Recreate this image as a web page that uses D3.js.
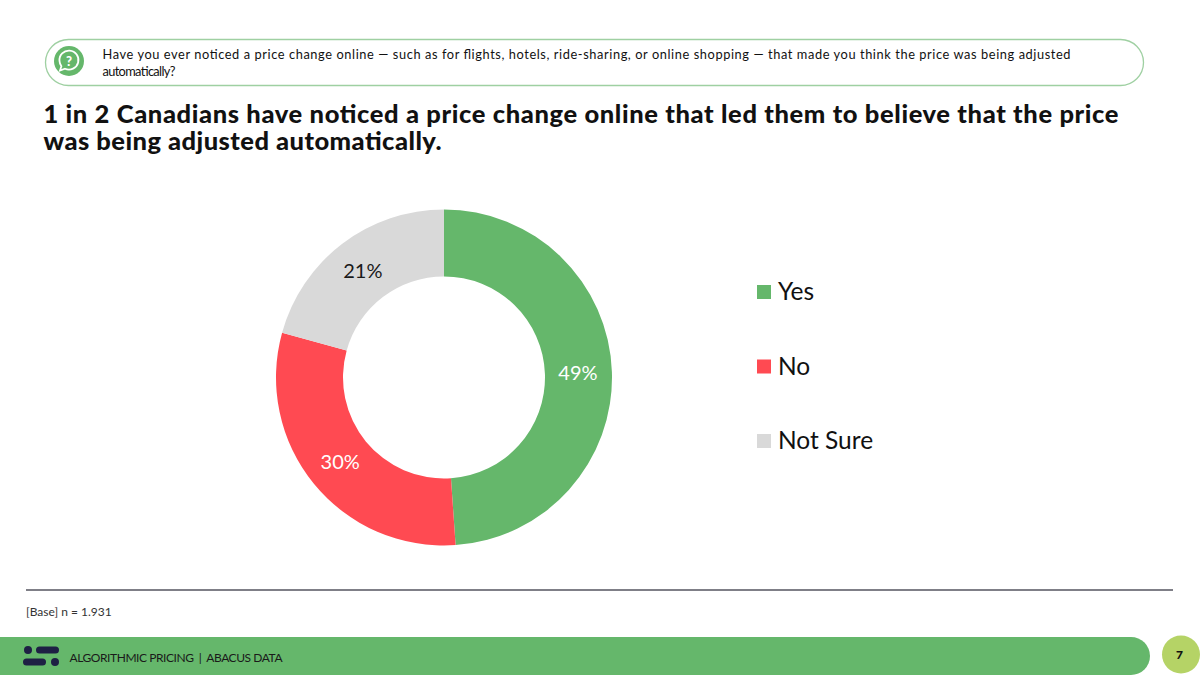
<!DOCTYPE html>
<html>
<head>
<meta charset="utf-8">
<script src="https://cdn.jsdelivr.net/npm/d3@7"></script>
<style>
  html, body { margin: 0; padding: 0; background: #fff; }
  svg { display: block; }
  text { font-family: Lato, "Open Sans", sans-serif; }
</style>
</head>
<body>
<div id="chart"></div>
<script>
const categories = ["Yes", "No", "Not Sure"];
// shares read from the slice boundaries, labels show them rounded
const values = [48.9, 30.4, 20.7];
const colors = ["#65b76b", "#ff4a52", "#d9d9d9"];
const labelColors = ["#fff", "#fff", "#1a1a1a"];

const questionLines = [
  "Have you ever noticed a price change online \u2014 such as for flights, hotels, ride-sharing, or online shopping \u2014 that made you think the price was being adjusted",
  "automatically?"
];
const titleLines = [
  "1 in 2 Canadians have noticed a price change online that led them to believe that the price",
  "was being adjusted automatically."
];

const GREEN = "#65b76b";
const svg = d3.select("#chart").append("svg").attr("width", 1200).attr("height", 675);

// question box
svg.append("rect")
  .attr("x", 45.5).attr("y", 39.5).attr("width", 1098).attr("height", 46).attr("rx", 23)
  .attr("fill", "#fff").attr("stroke", "#9fd0a2").attr("stroke-width", 1.3);
const icon = svg.append("g").attr("transform", "translate(69,61)");
icon.append("circle").attr("r", 15).attr("fill", GREEN);
icon.append("path")
  .attr("d", "M-9.5,0 A9.5,9.5 0 1 1 -4,7.7 L-9,9.5 L-7.6,5.2 A9.5,9.5 0 0 1 -9.5,0 Z")
  .attr("fill", "none").attr("stroke", "#fff").attr("stroke-width", 1.8);
icon.append("text").attr("text-anchor", "middle").attr("y", 5)
  .attr("font-size", 13).attr("font-weight", 900).attr("fill", "#fff").text("?");

svg.append("g").selectAll("text").data(questionLines).join("text")
  .attr("x", 102.5).attr("y", (d, i) => 59 + i * 17)
  .attr("font-size", 12.8).attr("fill", "#111")
  .attr("textLength", (d, i) => i === 0 ? 968 : 73)
  .attr("lengthAdjust", "spacing")
  .text(d => d);

svg.append("g").selectAll("text").data(titleLines).join("text")
  .attr("x", 43.5).attr("y", (d, i) => 123 + i * 27)
  .attr("font-size", 25.5).attr("font-weight", 900).attr("fill", "#111")
  .attr("textLength", (d, i) => i === 0 ? 1075 : 398)
  .attr("lengthAdjust", "spacing")
  .text(d => d);

// donut
const pie = d3.pie().sort(null).value(d => d);
const arc = d3.arc().innerRadius(101).outerRadius(168);
const labelArc = d3.arc().innerRadius(134).outerRadius(134);
const donut = svg.append("g").attr("transform", "translate(444,377.5)");
const slices = pie(values);

donut.selectAll("path").data(slices).join("path")
  .attr("d", arc)
  .attr("fill", (d, i) => colors[i]);

donut.selectAll("text").data(slices).join("text")
  .attr("transform", d => `translate(${labelArc.centroid(d)})`)
  .attr("text-anchor", "middle").attr("dy", "0.36em")
  .attr("font-size", 20).attr("fill", (d, i) => labelColors[i])
  .text(d => Math.round(d.value) + "%");

// legend
const legendY = d3.scalePoint().domain(categories).range([292, 441]);
const legend = svg.append("g").selectAll("g").data(categories).join("g")
  .attr("transform", d => `translate(757,${legendY(d)})`);
legend.append("rect")
  .attr("y", -7).attr("width", 14).attr("height", 14)
  .attr("fill", (d, i) => colors[i]);
legend.append("text")
  .attr("x", 21).attr("y", 8)
  .attr("font-size", 24.5).attr("fill", "#111")
  .text(d => d);

// footnote
svg.append("line").attr("x1", 26).attr("x2", 1173).attr("y1", 590).attr("y2", 590)
  .attr("stroke", "#55555f").attr("stroke-width", 1.3);
svg.append("text").attr("x", 26).attr("y", 616)
  .attr("font-size", 12).attr("fill", "#333").text("[Base] n = 1.931");

// footer bar
svg.append("path")
  .attr("d", "M0,637 H1131 A19,19 0 0 1 1131,675 H0 Z")
  .attr("fill", GREEN);
const NAVY = "#1e2044";
svg.append("circle").attr("cx", 28).attr("cy", 650).attr("r", 4).attr("fill", NAVY);
svg.append("rect").attr("x", 36).attr("y", 646.5).attr("width", 23).attr("height", 7).attr("rx", 3.5).attr("fill", NAVY);
svg.append("rect").attr("x", 23).attr("y", 658.5).attr("width", 23).attr("height", 7).attr("rx", 3.5).attr("fill", NAVY);
svg.append("circle").attr("cx", 55).attr("cy", 662).attr("r", 4).attr("fill", NAVY);
svg.append("text").attr("x", 69.5).attr("y", 661.5)
  .attr("font-size", 12).attr("fill", "#1a1a1a")
  .attr("textLength", 213).attr("lengthAdjust", "spacing")
  .text("ALGORITHMIC PRICING \u00a0|\u00a0 ABACUS DATA");

svg.append("circle").attr("cx", 1181).attr("cy", 654.5).attr("r", 19).attr("fill", "#b5d366");
svg.append("text").attr("x", 1179.5).attr("y", 658.5).attr("text-anchor", "middle")
  .attr("font-size", 12).attr("font-weight", 900).attr("fill", "#111").text("7");
</script>
</body>
</html>
